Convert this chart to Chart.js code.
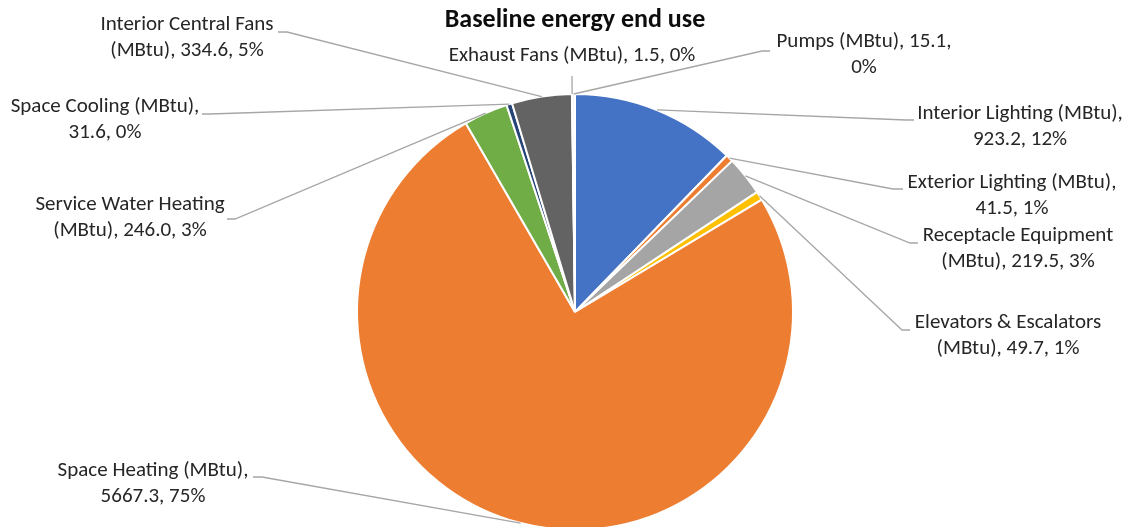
<!DOCTYPE html>
<html>
<head>
<meta charset="utf-8">
<title>Baseline energy end use</title>
<script src="https://cdn.jsdelivr.net/npm/chart.js@4/dist/chart.umd.min.js"></script>
<style>
  html, body { margin: 0; padding: 0; background: #ffffff; overflow: hidden; width: 1128px; height: 527px; }
  #wrap { position: relative; width: 1128px; height: 540px; }
</style>
</head>
<body>
<div id="wrap"><canvas id="c"></canvas></div>
<script>
// End-use categories and annual energy (MBtu)
const categories = [
  'Interior Lighting',
  'Exterior Lighting',
  'Receptacle Equipment',
  'Elevators & Escalators',
  'Space Heating',
  'Service Water Heating',
  'Space Cooling',
  'Interior Central Fans',
  'Exhaust Fans',
  'Pumps'
];
const energyMBtu = [923.2, 41.5, 219.5, 49.7, 5667.3, 246.0, 31.6, 334.6, 1.5, 15.1];
const unitLabel = 'MBtu';
const chartTitle = 'Baseline energy end use';

const sliceColors = ['#4472C4', '#ED7D31', '#A5A5A5', '#FFC000', '#ED7D31',
                     '#70AD47', '#264478', '#636363', '#997300', '#F4F4F4'];

// Where each data label sits (text centre x, first-line centre y), how many
// words go on its first line, and where its leader line meets the text.
const labelLayout = [
  { tx: 1020, ty: 114, words: 3, elbow: [906, 120], end: [914, 120] },
  { tx: 1012, ty: 183, words: 3, elbow: [893, 189], end: [903, 189] },
  { tx: 1018, ty: 236, words: 2, elbow: [910, 243], end: [918, 243] },
  { tx: 1008, ty: 323, words: 3, elbow: [902, 330], end: [910, 330] },
  { tx: 153,  ty: 471, words: 3, elbow: [262, 477], end: [253, 477] },
  { tx: 130,  ty: 205, words: 3, elbow: [235, 219], end: [227, 219] },
  { tx: 105,  ty: 107, words: 3, elbow: [210, 114], end: [202, 114] },
  { tx: 187,  ty: 25,  words: 3, elbow: [287, 32],  end: [278, 32] },
  { tx: 572,  ty: 56,  words: 99, elbow: [572, 76], end: [572, 76] },
  { tx: 864,  ty: 42,  words: 3, elbow: [762, 51],  end: [770, 51] }
];

const FONT = 'Carlito, Calibri, Lato, "Open Sans", sans-serif';

// Whole-number percentages that add up to 100 (largest remainder)
function roundedPercents(values) {
  const total = values.reduce((a, b) => a + b, 0);
  const raw = values.map(v => v / total * 100);
  const out = raw.map(Math.floor);
  let left = 100 - out.reduce((a, b) => a + b, 0);
  const order = raw.map((r, i) => [r - Math.floor(r), i]).sort((a, b) => b[0] - a[0]);
  for (let k = 0; k < left; k++) out[order[k][1]] += 1;
  return out;
}
const percents = roundedPercents(energyMBtu);

function labelLines(i) {
  const text = `${categories[i]} (${unitLabel}), ${energyMBtu[i].toFixed(1)}, ${percents[i]}%`;
  const words = text.split(' ');
  const n = labelLayout[i].words;
  const first = words.slice(0, n).join(' ');
  const rest = words.slice(n).join(' ');
  return rest ? [first, rest] : [first];
}

const calloutPlugin = {
  id: 'callouts',
  afterDatasetsDraw(chart) {
    const ctx = chart.ctx;
    const arcs = chart.getDatasetMeta(0).data;
    ctx.save();

    // leader lines
    ctx.strokeStyle = '#A6A6A6';
    ctx.lineWidth = 1.3;
    arcs.forEach((arc, i) => {
      const p = arc.getProps(['x', 'y', 'startAngle', 'endAngle', 'outerRadius'], true);
      const mid = (p.startAngle + p.endAngle) / 2;
      const ax = p.x + Math.cos(mid) * p.outerRadius;
      const ay = p.y + Math.sin(mid) * p.outerRadius;
      const L = labelLayout[i];
      ctx.beginPath();
      ctx.moveTo(ax, ay);
      ctx.lineTo(L.elbow[0], L.elbow[1]);
      ctx.lineTo(L.end[0], L.end[1]);
      ctx.stroke();
    });

    // label text
    ctx.fillStyle = '#262626';
    ctx.font = `21px ${FONT}`;
    ctx.textAlign = 'center';
    ctx.textBaseline = 'middle';
    labelLayout.forEach((L, i) => {
      labelLines(i).forEach((line, j) => {
        ctx.fillText(line, L.tx, L.ty + j * 25.5);
      });
    });

    // title
    ctx.fillStyle = '#0d0d0d';
    ctx.font = `bold 26px ${FONT}`;
    ctx.fillText(chartTitle, 575, 20);
    ctx.restore();
  }
};

new Chart(document.getElementById('c'), {
  type: 'pie',
  data: {
    labels: categories,
    datasets: [{
      data: energyMBtu,
      backgroundColor: sliceColors,
      borderColor: '#ffffff',
      borderWidth: 2
    }]
  },
  options: {
    responsive: true,
    maintainAspectRatio: false,
    animation: false,
    layout: { padding: { left: 350, right: 328, top: 93, bottom: 9 } },
    plugins: {
      legend: { display: false },
      tooltip: { enabled: false },
      title: { display: false }
    }
  },
  plugins: [calloutPlugin]
});
</script>
</body>
</html>
